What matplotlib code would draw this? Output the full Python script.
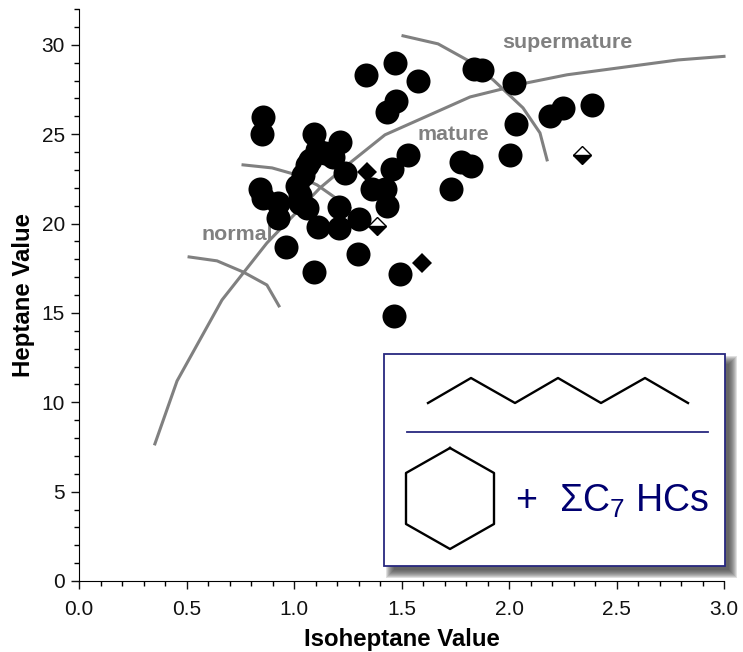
import matplotlib
matplotlib.use("Agg")
import matplotlib.pyplot as plt
from matplotlib.patches import Rectangle
from matplotlib.ticker import MultipleLocator

plt.rcParams["font.family"] = ["Liberation Sans", "DejaVu Sans"]
plt.rcParams["mathtext.default"] = "regular"

# muestras (circulos)
iso = [1.47, 1.335, 1.577, 1.837, 1.874, 2.023, 1.474, 1.433, 0.856, 0.851, 1.093, 1.214,
       2.033, 2.19, 2.251, 2.386, 1.53, 1.456, 1.237, 1.777, 1.823, 2.005, 1.73, 1.423,
       1.363, 1.433, 1.302, 1.209, 1.209, 1.112, 1.298, 1.493, 1.465, 1.093, 0.963, 0.926,
       0.926, 0.856, 0.842, 1.074, 1.06, 1.042, 1.014, 1.028, 1.06, 1.028, 1.107, 1.181, 1.144]
hep = [29.0, 28.3, 27.98, 28.65, 28.6, 27.87, 26.86, 26.24, 25.97, 25.01, 25.01, 24.57,
       25.57, 26.02, 26.47, 26.64, 23.84, 23.06, 22.83, 23.45, 23.22, 23.84, 21.94, 21.94,
       21.94, 20.98, 20.26, 20.93, 19.75, 19.81, 18.3, 17.18, 14.83, 17.29, 18.69, 20.31,
       21.15, 21.43, 21.94, 23.56, 23.28, 22.72, 22.1, 21.6, 20.87, 21.15, 24.12, 23.73, 23.95]

# rombos
rombo_x = [1.34, 1.595]
rombo_y = [22.89, 17.8]
medio_x = [1.386, 2.34]
medio_y = [19.87, 23.84]

# curvas grises
curva_x = [0.353, 0.456, 0.665, 0.874, 1.121, 1.26, 1.423, 1.819, 2.084, 2.27, 2.786, 3.0]
curva_y = [7.67, 11.19, 15.72, 18.91, 21.99, 23.39, 24.96, 27.08, 27.87, 28.32, 29.15, 29.35]
normal_x = [0.512, 0.642, 0.763, 0.874, 0.93]
normal_y = [18.13, 17.91, 17.29, 16.56, 15.39]
mature_x = [0.763, 0.898, 0.995, 1.107, 1.26]
mature_y = [23.28, 23.11, 22.78, 22.16, 20.87]
super_x = [1.507, 1.67, 1.805, 1.926, 2.065, 2.144, 2.177]
super_y = [30.5, 30.05, 29.15, 28.04, 26.47, 25.07, 23.56]

# dibujo del recuadro, en pixeles de la figura
zigzag_x = [428, 471, 515, 558, 601, 645, 688]
zigzag_y = [403, 378, 403, 378, 403, 378, 403]
hexa_x = [450, 494, 494, 450, 406, 406, 450]
hexa_y = [448, 473, 524, 549, 524, 473, 448]

W, H = 743, 652
GRIS = "#808080"
AZUL = "#000070"

fig = plt.figure(figsize=(W / 100, H / 100), dpi=100)
ax = fig.add_axes([79 / W, (H - 581) / H, 645 / W, 572 / H])

ax.plot(curva_x, curva_y, color=GRIS, lw=2.2, zorder=1, clip_on=False)
ax.plot(normal_x, normal_y, color=GRIS, lw=2.2, zorder=1)
ax.plot(mature_x, mature_y, color=GRIS, lw=2.2, zorder=1)
ax.plot(super_x, super_y, color=GRIS, lw=2.2, zorder=1)

ax.text(0.737, 19.36, "normal", color=GRIS, fontsize=15.4, fontweight="bold", ha="center", va="center", zorder=1)
ax.text(1.74, 25.0, "mature", color=GRIS, fontsize=15.4, fontweight="bold", ha="center", va="center", zorder=1)
ax.text(2.27, 30.1, "supermature", color=GRIS, fontsize=15.4, fontweight="bold", ha="center", va="center", zorder=1)

ax.plot(iso, hep, "o", color="black", ms=17.3, mew=0, zorder=3)
ax.plot(rombo_x, rombo_y, "D", color="black", ms=10, mew=0, zorder=3)
ax.plot(medio_x, medio_y, "D", color="black", ms=9.6, mew=1, fillstyle="bottom",
        markerfacecoloralt="white", zorder=3)

ax.set_xlim(0, 3)
ax.set_ylim(0, 32)
ax.xaxis.set_major_locator(MultipleLocator(0.5))
ax.xaxis.set_minor_locator(MultipleLocator(0.1))
ax.yaxis.set_major_locator(MultipleLocator(5))
ax.yaxis.set_minor_locator(MultipleLocator(1))
ax.xaxis.set_major_formatter("{x:.1f}")
ax.tick_params(which="major", length=6, width=1, labelsize=15, colors="#111111")
ax.tick_params(axis="x", which="major", pad=8)
ax.tick_params(axis="y", which="major", pad=4)
ax.tick_params(which="minor", length=3.5, width=1)
ax.spines["top"].set_visible(False)
ax.spines["right"].set_visible(False)
ax.set_xlabel("Isoheptane Value", fontsize=17.3, fontweight="bold", labelpad=6)
ax.set_ylabel("Heptane Value", fontsize=17.3, fontweight="bold", labelpad=5)

# recuadro con sombra difusa
capa = fig.add_axes([0, 0, 1, 1], facecolor="none")
capa.set_xlim(0, W)
capa.set_ylim(H, 0)
capa.axis("off")
for d in [5, 4, 3, 2, 1, 0, -1, -2, -3]:
    capa.add_patch(Rectangle((384 + 7 - d, 354 + 7 - d), 341 + 2 * d, 212 + 2 * d,
                             fc="#404040", ec="none", alpha=0.16))
capa.add_patch(Rectangle((384, 354), 341, 212, fc="white", ec="#28287f", lw=1.3))
capa.plot(zigzag_x, zigzag_y, color="black", lw=1.7)
capa.plot(hexa_x, hexa_y, color="black", lw=1.7)
capa.plot([407, 708], [432, 432], color="#28287f", lw=1.3)
capa.text(515, 501, "+", color=AZUL, fontsize=27, ha="left", va="center")
capa.text(559, 501, "ΣC$_7$ HCs", color=AZUL, fontsize=27, ha="left", va="center")

fig.savefig("out.png", dpi=100)
